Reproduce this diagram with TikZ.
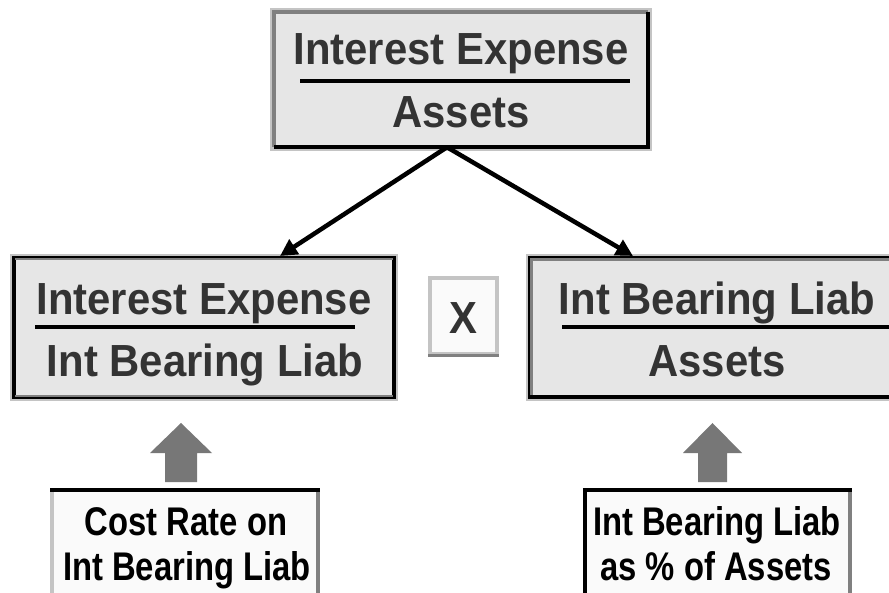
\documentclass[tikz,border=0pt]{standalone}
\usepackage{fontspec}
\setmainfont{Liberation Sans}
\newfontfamily\boxfont[FakeStretch=0.93]{Liberation Sans}
\newfontfamily\smallboxfont[FakeStretch=0.82]{Liberation Sans}
\usetikzlibrary{arrows.meta}
\definecolor{boxfill}{HTML}{E6E6E6}
\definecolor{whitefill}{HTML}{FAFAFA}
\definecolor{darkgrey}{HTML}{808080}
\definecolor{lightgrey}{HTML}{C4C4C4}
\definecolor{blockgrey}{HTML}{777777}
\definecolor{textgrey}{HTML}{333333}
\begin{document}
\begin{tikzpicture}[x=1pt,y=-1pt,
  greybox/.style={rectangle, inner sep=0pt, fill=boxfill, preaction={draw=lightgrey, line width=8pt}},
  xbox/.style={rectangle, inner sep=0pt, fill=whitefill, draw=lightgrey, line width=3.5pt},
  lowbox/.style={rectangle, inner sep=0pt, fill=whitefill},
  maintext/.style={inner sep=0pt, text=textgrey, font=\boxfont\bfseries\fontsize{45}{50}\selectfont},
  lowtext/.style={inner sep=0pt, text=black, font=\smallboxfont\bfseries\fontsize{40}{44}\selectfont},
  rulestyle/.style={line width=3.5pt, black},
  conn/.style={line width=4.5pt, black, -{Triangle[length=17pt,width=17pt]}},
  blockarrow/.style={fill=blockgrey, draw=none}
]
\useasboundingbox (0,0) rectangle (889,593);
\clip (0,0) rectangle (889,593);

% top box
\node[greybox, minimum width=374pt, minimum height=135pt] (top) at (461,79.5) {};
\draw[line width=3.5pt, darkgrey] (top.south west) -- (top.north west) -- (top.north east);
\draw[line width=4pt, black] (top.north east) -- (top.south east) -- (top.south west);
\node[maintext, anchor=base] (topnum) at (461,65) {Interest Expense};
\draw[rulestyle] (300,81) -- (630,81);
\node[maintext, anchor=base] (topden) at (461,128) {Assets};

% left middle box
\node[greybox, draw=black, line width=4pt, minimum width=380pt, minimum height=139pt] (L) at (204,327.5) {};
\draw[darkgrey, line width=2.5pt] ([shift={(3,3.2)}]L.north west) -- ([shift={(-3,3.2)}]L.north east);
\draw[darkgrey, line width=2.5pt] ([shift={(3,-3.2)}]L.south west) -- ([shift={(-3,-3.2)}]L.south east);
\node[maintext, anchor=base] (Lnum) at (204,315) {Interest Expense};
\draw[rulestyle] (35,327) -- (355,327);
\node[maintext, anchor=base] (Lden) at (205,377) {Int Bearing Liab};

% X box
\node[xbox, minimum width=67pt, minimum height=76pt] (X) at (463.5,316) {};
\draw[darkgrey, line width=3.5pt] (X.south west) -- (X.south east);
\node[maintext, anchor=base] (Xt) at (463.5,334) {X};

% right middle box
\node[greybox, draw=black, line width=4pt, minimum width=376pt, minimum height=139pt] (R) at (718,327.5) {};
\draw[darkgrey, line width=3pt] ([shift={(3.5,-3.5)}]R.south west) -- ([shift={(3.5,3.5)}]R.north west) -- ([shift={(-3.5,3.5)}]R.north east);
\node[maintext, anchor=base] (Rnum) at (717,315) {Int Bearing Liab};
\draw[rulestyle] (562,327) -- (900,327);
\node[maintext, anchor=base] (Rden) at (717,377) {Assets};

% connectors
\draw[conn] ([xshift=-14pt]top.south) -- ([xshift=76pt]L.north);
\draw[conn] ([xshift=-14pt]top.south) -- ([xshift=-85pt]R.north);

% bottom boxes
\node[lowbox, minimum width=266pt, minimum height=140pt] (BL) at (185,560) {};
\draw[lightgrey, line width=3.5pt] (BL.north west) -- (BL.south west);
\draw[darkgrey, line width=3.5pt] (BL.north east) -- (BL.south east);
\draw[black, line width=4pt] ([xshift=-1.75pt]BL.north west) -- ([xshift=1.75pt]BL.north east);
\node[lowtext, anchor=base] (BL1) at (186,535) {Cost Rate on};
\node[lowtext, anchor=base] (BL2) at (187,580) {Int Bearing Liab};

\node[lowbox, minimum width=265pt, minimum height=140pt] (BR) at (717.5,560) {};
\draw[black, line width=4pt] (BR.north west) -- (BR.south west);
\draw[darkgrey, line width=3.5pt] (BR.north east) -- (BR.south east);
\draw[black, line width=4pt] ([xshift=-2pt]BR.north west) -- ([xshift=1.75pt]BR.north east);
\node[lowtext, anchor=base] (BR1) at (717,535) {Int Bearing Liab};
\node[lowtext, anchor=base] (BR2) at (716,580) {as \% of Assets};

% block arrows
\fill[blockgrey] (165,482) -- (165,453) -- (150,453) -- (181,423) -- (212,453) -- (197,453) -- (197,482) -- cycle;
\fill[blockgrey] (698,482) -- (698,453) -- (683,453) -- (712.5,423) -- (742,453) -- (727,453) -- (727,482) -- cycle;
\end{tikzpicture}
\end{document}
